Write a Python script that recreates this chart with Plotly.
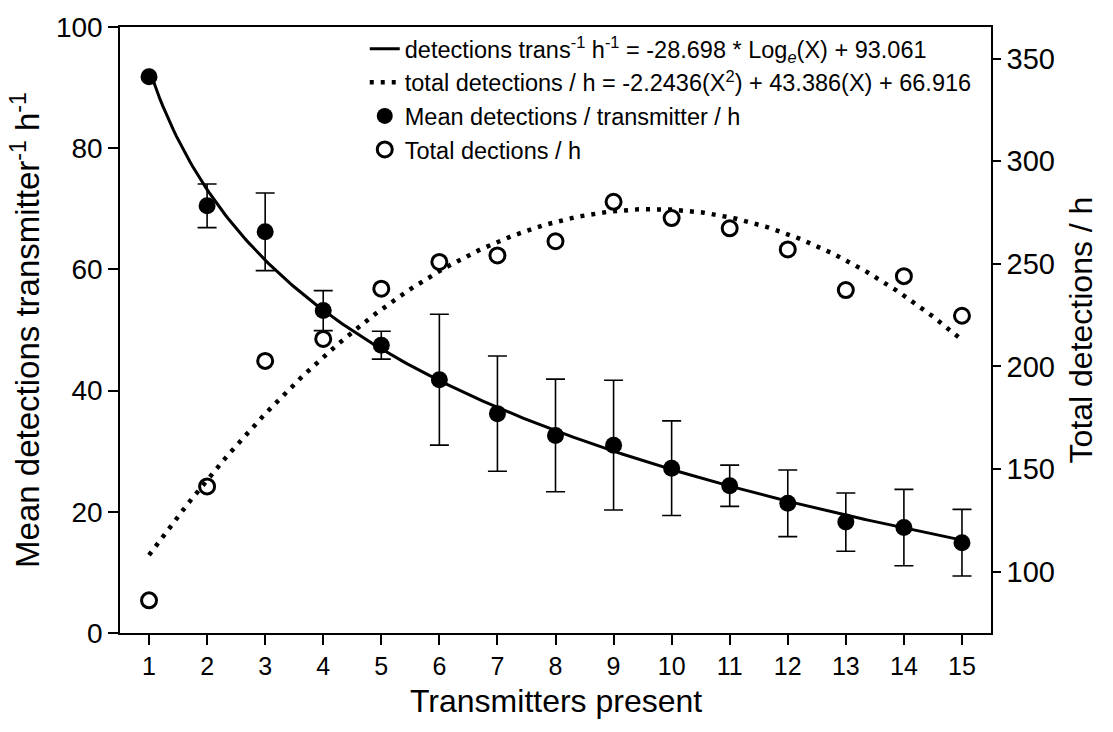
import numpy as np
import plotly.graph_objects as go

# Number of transmitters present in the receiver range
transmitters = list(range(1, 16))

# Mean detections per transmitter per hour (left axis) and their error half-widths
mean_det = [91.8, 70.5, 66.2, 53.2, 47.5, 41.8, 36.2, 32.6, 31.0, 27.2, 24.3, 21.4, 18.3, 17.4, 14.9]
mean_err = [None, 3.6, 6.4, 3.3, 2.3, 10.8, 9.5, 9.3, 10.7, 7.8, 3.4, 5.5, 4.8, 6.3, 5.5]

# Total detections per hour (right axis)
total_det = [86.0, 141.5, 202.7, 213.4, 237.9, 250.9, 254.1, 261.0, 280.2, 272.3, 267.3, 257.0, 237.2, 244.0, 224.7]

# Fitted models stated in the legend
LOG_SLOPE, LOG_INTERCEPT = -28.698, 93.061
QUAD_A, QUAD_B, QUAD_C = -2.2436, 43.386, 66.916

x_fit = np.linspace(1, 15, 300)
log_fit = LOG_SLOPE * np.log(x_fit) + LOG_INTERCEPT
quad_fit = QUAD_A * x_fit**2 + QUAD_B * x_fit + QUAD_C

FONT = "Liberation Sans, Arial, sans-serif"

fig = go.Figure()

fig.add_trace(go.Scatter(
    x=x_fit, y=log_fit, mode="lines",
    line=dict(color="black", width=3),
    name="detections trans<sup>-1</sup> h<sup>-1</sup> = -28.698 * Log<sub><i>e</i></sub>(X) + 93.061",
))
fig.add_trace(go.Scatter(
    x=x_fit, y=quad_fit, mode="lines", yaxis="y2",
    line=dict(color="black", width=4.5, dash="4px,7px"),
    name="total detections / h = -2.2436(X<sup>2</sup>) + 43.386(X) + 66.916",
))

# Error bars only where a spread was measured
eb_x = [x for x, e in zip(transmitters, mean_err) if e is not None]
eb_y = [m for m, e in zip(mean_det, mean_err) if e is not None]
eb_e = [e for e in mean_err if e is not None]
fig.add_trace(go.Scatter(
    x=eb_x, y=eb_y, mode="markers", showlegend=False, hoverinfo="skip",
    marker=dict(size=1, color="rgba(0,0,0,0)"),
    error_y=dict(type="data", array=eb_e, visible=True, color="black", thickness=1.6, width=9.5),
))

fig.add_trace(go.Scatter(
    x=transmitters, y=mean_det, mode="markers",
    marker=dict(symbol="circle", size=17, color="black"),
    name="Mean detections / transmitter / h",
))
fig.add_trace(go.Scatter(
    x=transmitters, y=total_det, mode="markers", yaxis="y2",
    marker=dict(symbol="circle-open", size=15, color="black", line=dict(width=3, color="black")),
    name="Total dections / h",
))

fig.update_layout(
    width=1113, height=732,
    margin=dict(l=120, r=122, t=21, b=99),
    paper_bgcolor="white", plot_bgcolor="white",
    font=dict(family=FONT, color="black"),
    showlegend=True,
    legend=dict(
        x=0.281, y=1.0, xanchor="left", yanchor="top",
        bgcolor="rgba(0,0,0,0)", borderwidth=0,
        font=dict(family=FONT, size=23.5, color="black"),
        tracegroupgap=0,
    ),
    xaxis=dict(
        range=[0.5, 15.5], tickvals=transmitters,
        ticks="outside", ticklen=10, tickwidth=1.5, tickcolor="black",
        showline=True, linecolor="black", linewidth=1.5, mirror=True,
        showgrid=False, zeroline=False,
        tickfont=dict(family=FONT, size=25),
    ),
    yaxis=dict(
        range=[0, 100], tickvals=[0, 20, 40, 60, 80, 100],
        ticks="outside", ticklen=10, tickwidth=1.5, tickcolor="black",
        showline=True, linecolor="black", linewidth=1.5,
        showgrid=False, zeroline=False,
        tickfont=dict(family=FONT, size=28),
        title=dict(text="Mean detections transmitter<sup>-1</sup> h<sup>-1</sup>",
                   font=dict(family=FONT, size=33), standoff=6),
    ),
    yaxis2=dict(
        overlaying="y", side="right",
        range=[70.1, 365.4], tickvals=[100, 150, 200, 250, 300, 350],
        ticks="outside", ticklen=8, tickwidth=1.5, tickcolor="black",
        showline=True, linecolor="black", linewidth=1.5,
        showgrid=False, zeroline=False,
        tickfont=dict(family=FONT, size=29),
        title=dict(text="Total detections / h", font=dict(family=FONT, size=32), standoff=16),
    ),
    annotations=[dict(
        text="Transmitters present", xref="paper", yref="paper",
        x=0.5, y=-0.113, xanchor="center", yanchor="middle", showarrow=False,
        font=dict(family=FONT, size=32, color="black"),
    )],
)

fig.write_html("out.html")
